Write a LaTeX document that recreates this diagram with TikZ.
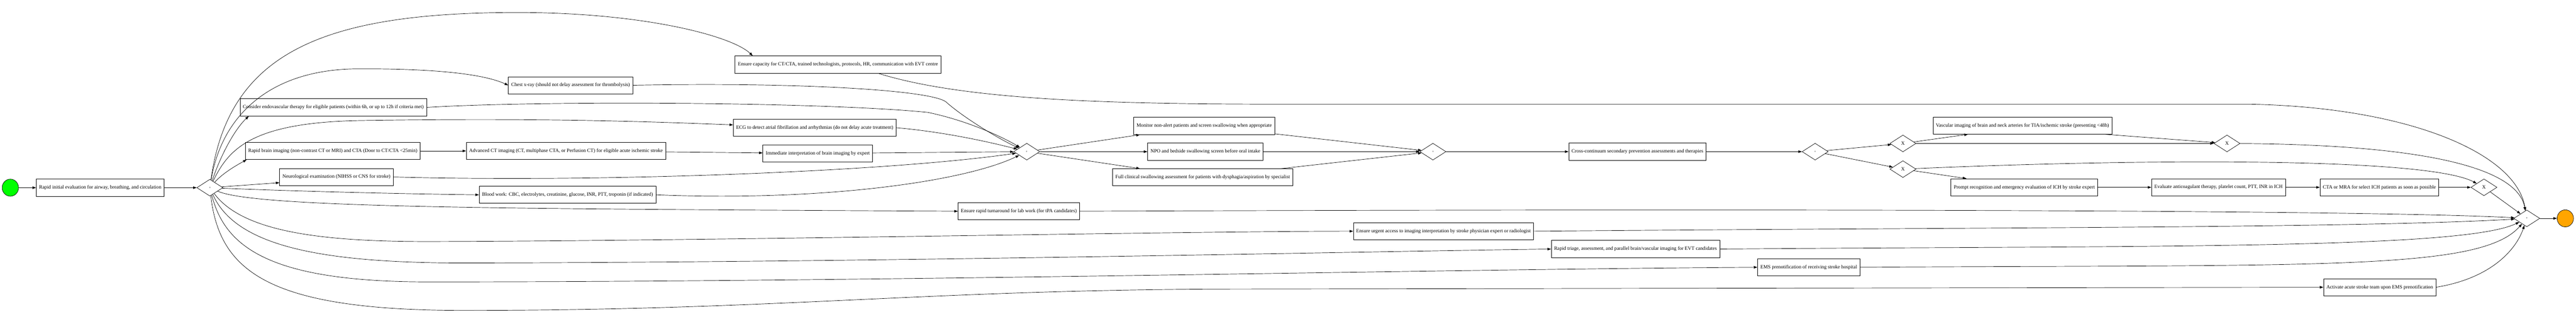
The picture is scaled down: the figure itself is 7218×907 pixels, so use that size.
\documentclass[tikz,border=0pt]{standalone}
\usepackage{fontspec}
\setmainfont{Liberation Serif}
\usetikzlibrary{arrows.meta,shapes.geometric}
\definecolor{endorange}{HTML}{FFA500}
\begin{document}
\begin{tikzpicture}[
		x=1pt, y=-1pt,
		task/.style={draw, line width=1.2pt, rectangle, minimum height=48pt, inner xsep=8pt, font=\fontsize{14}{16}\selectfont, anchor=west},
		gate/.style={draw, line width=1pt, diamond, minimum width=73pt, minimum height=47pt, inner sep=0pt, font=\fontsize{14}{16}\selectfont},
		andgate/.style={gate, font=\fontsize{9}{10}\selectfont},
		startev/.style={draw, line width=1pt, ellipse, fill=green, minimum width=46pt, minimum height=48pt, inner sep=0pt},
		endev/.style={startev, fill=endorange},
		flow/.style={line width=1pt, -{Triangle[length=10pt,width=7pt]}}
		]
		\useasboundingbox (0,0) rectangle (7218,907);
		\node[startev] (start) at (29,526) {};
		\node[task] (eval) at (101,526) {Rapid initial evaluation for airway, breathing, and circulation};
		\node[andgate] (g1) at (588,526) {+};
		\node[task, anchor=east] (capacity) at (2637,181) {Ensure capacity for CT/CTA, trained technologists, protocols, HR, communication with EVT centre};
		\node[task] (chest) at (1424,239) {Chest x-ray (should not delay assessment for thrombolysis)};
		\node[task] (endo) at (672,301) {Consider endovascular therapy for eligible patients (within 6h, or up to 12h if criteria met)};
		\node[task] (ecg) at (2054,358) {ECG to detect atrial fibrillation and arrhythmias (do not delay acute treatment)};
		\node[task] (brainimg) at (687,423) {Rapid brain imaging (non-contrast CT or MRI) and CTA (Door to CT/CTA <25min)};
		\node[task] (advct) at (1306,423) {Advanced CT imaging (CT, multiphase CTA, or Perfusion CT) for eligible acute ischemic stroke};
		\node[task] (interp) at (2137,430) {Immediate interpretation of brain imaging by expert};
		\node[task] (neuro) at (783,496) {Neurological examination (NIHSS or CNS for stroke)};
		\node[task] (blood) at (1342,546) {Blood work: CBC, electrolytes, creatinine, glucose, INR, PTT, troponin (if indicated)};
		\node[task] (labtat) at (2684,592) {Ensure rapid turnaround for lab work (for tPA candidates)};
		\node[task, anchor=east] (urgent) at (4298,648) {Ensure urgent access to imaging interpretation by stroke physician expert or radiologist};
		\node[task] (triage) at (4346,698) {Rapid triage, assessment, and parallel brain/vascular imaging for EVT candidates};
		\node[task] (emspre) at (4924,749) {EMS prenotification of receiving stroke hospital};
		\node[task] (activate) at (6510,805) {Activate acute stroke team upon EMS prenotification};
		\node[andgate] (g2) at (2877,425) {+};
		\node[task] (monitor) at (3176,353) {Monitor non-alert patients and screen swallowing when appropriate};
		\node[task] (npo) at (3215,425) {NPO and bedside swallowing screen before oral intake};
		\node[task] (fullswal) at (3117,497) {Full clinical swallowing assessment for patients with dysphagia/aspiration by specialist};
		\node[andgate] (g3) at (4015,425) {+};
		\node[task] (crosscont) at (4395,425) {Cross-continuum secondary prevention assessments and therapies};
		\node[andgate] (g4) at (5086,425) {+};
		\node[gate] (x1) at (5332,402) {X};
		\node[gate] (x2) at (5332,474) {X};
		\node[task] (vasc) at (5416,352) {Vascular imaging of brain and neck arteries for TIA/ischemic stroke (presenting <48h)};
		\node[gate] (x3) at (6240,402) {X};
		\node[task] (ich) at (5466,525) {Prompt recognition and emergency evaluation of ICH by stroke expert};
		\node[task] (anticoag) at (6028,525) {Evaluate anticoagulant therapy, platelet count, PTT, INR in ICH};
		\node[task] (ctamra) at (6500,525) {CTA or MRA for select ICH patients as soon as possible};
		\node[gate] (x4) at (6960,525) {X};
		\node[andgate] (g5) at (7080,612) {+};
		\node[endev] (stop) at (7188,612) {};

		\draw[flow] (start) -- (eval);
		\draw[flow] (eval) -- (g1);
		\draw[flow] (g1) .. controls (640,150) and (900,35) .. (1450,35) .. controls (1800,35) and (2050,100) .. ([xshift=50pt]capacity.north west);
		\draw[flow] (g1) .. controls (620,330) and (750,195) .. (1000,193) .. controls (1200,192) and (1350,205) .. (chest.west);
		\draw[flow] (g1) .. controls (620,430) and (660,360) .. ([xshift=25pt]endo.south west);
		\draw[flow] (g1) .. controls (640,420) and (700,345) .. (1000,338) .. controls (1500,330) and (1800,340) .. ([yshift=8pt]ecg.west);
		\draw[flow] (g1) .. controls (620,490) and (650,470) .. ([xshift=4pt]brainimg.south west);
		\draw[flow] (brainimg) -- (advct);
		\draw[flow] (advct) -- (interp);
		\draw[flow] (g1) -- ([yshift=-16pt]neuro.west);
		\draw[flow] (g1) .. controls (800,535) and (1100,543) .. (blood.west);
		\draw[flow] (g1) .. controls (720,585) and (1500,585) .. (labtat.west);
		\draw[flow] (g1) .. controls (680,650) and (900,677) .. (1200,677) .. controls (2000,675) and (3300,648) .. (urgent.west);
		\draw[flow] (g1) .. controls (660,690) and (900,737) .. (1300,737) .. controls (2500,735) and (3800,705) .. (triage.west);
		\draw[flow] (g1) .. controls (630,690) and (750,790) .. (1200,790) .. controls (2500,790) and (4000,755) .. (emspre.west);
		\draw[flow] (g1) .. controls (615,760) and (750,870) .. (1300,870) .. controls (2200,870) and (2600,810) .. (3500,810) -- (activate.west);

		\draw[flow] (chest.east) .. controls (2200,230) and (2600,250) .. (2650,285) .. controls (2700,330) and (2800,390) .. (g2);
		\draw[flow] (endo.east) .. controls (1500,282) and (2300,285) .. (2600,315) .. controls (2720,340) and (2820,390) .. (g2);
		\draw[flow] (ecg.east) .. controls (2650,370) and (2780,400) .. (g2);
		\draw[flow] (interp) -- (g2);
		\draw[flow] (neuro.east) .. controls (1700,512) and (2500,480) .. (g2);
		\draw[flow] (blood.east) .. controls (2300,565) and (2700,510) .. (g2);

		\draw[flow] (g2) -- ([xshift=18pt]monitor.south west);
		\draw[flow] (g2) -- (npo);
		\draw[flow] (g2) -- ([xshift=77pt]fullswal.north west);
		\draw[flow] (monitor) -- (g3);
		\draw[flow] (npo) -- (g3);
		\draw[flow] (fullswal) -- (g3);
		\draw[flow] (g3) -- (crosscont);
		\draw[flow] (crosscont) -- (g4);
		\draw[flow] (g4) -- (x1);
		\draw[flow] (g4) -- (x2);
		\draw[flow] (x1) -- ([xshift=98pt]vasc.south west);
		\draw[flow] (x1) -- (x3);
		\draw[flow] ([xshift=-18pt]vasc.south east) -- (x3);
		\draw[flow] (x2) -- ([xshift=44pt]ich.north west);
		\draw[flow] (x2) .. controls (6000,445) and (6800,440) .. (x4);
		\draw[flow] (ich) -- (anticoag);
		\draw[flow] (anticoag) -- (ctamra);
		\draw[flow] (ctamra) -- (x4);

		\draw[flow] (x3) .. controls (6700,405) and (7050,450) .. (g5);
		\draw[flow] ([xshift=-176pt]capacity.south east) .. controls (2700,280) and (3100,292) .. (3600,292) -- (6300,292) .. controls (6750,300) and (7050,430) .. (g5);
		\draw[flow] (labtat.east) .. controls (4000,588) and (6500,582) .. (g5);
		\draw[flow] (urgent.east) .. controls (5500,637) and (6600,640) .. (g5);
		\draw[flow] (triage.east) .. controls (6000,688) and (6900,700) .. (g5);
		\draw[flow] (emspre.east) .. controls (6500,741) and (6950,760) .. (g5);
		\draw[flow] (activate.east) .. controls (6980,780) and (7050,700) .. (g5);
		\draw[flow] (x4) -- (g5);
		\draw[flow] (g5) -- (stop);
\end{tikzpicture}
\end{document}
